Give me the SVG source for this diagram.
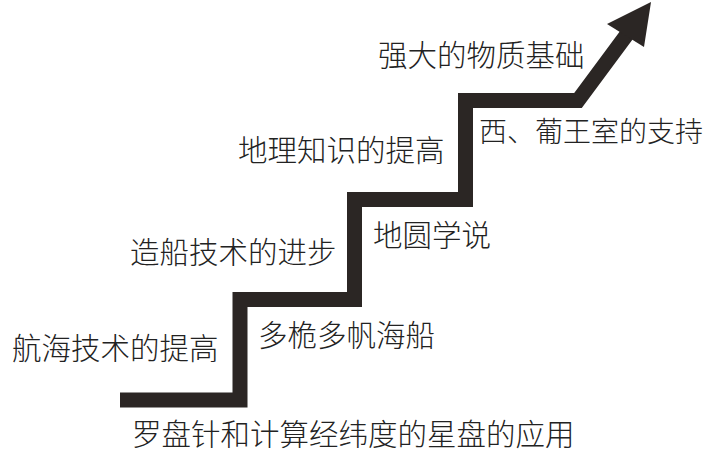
<svg xmlns="http://www.w3.org/2000/svg" width="712" height="452" viewBox="0 0 712 452">
<style>
.t{font-family:"Noto Sans CJK SC","Noto Sans",sans-serif;font-size:29.5px;font-weight:300;fill:#222;}
.stair{fill:none;stroke:#2b2624;stroke-width:15;stroke-linejoin:miter;stroke-linecap:butt;}
</style>
<rect width="712" height="452" fill="#fff"/>
<g id="connectors">
<path class="stair" d="M120,400 H240 V299.5 H354.5 V199.5 H465.5 V100.5 H578 L628,33"/>
<polygon points="651,2 607,24 644,47" fill="#2b2624"/>
</g>
<g id="n1"><text class="t" x="132" y="445">罗盘针和计算经纬度的星盘的应用</text></g>
<g id="n2"><text class="t" x="12" y="359">航海技术的提高</text></g>
<g id="n3"><text class="t" x="258" y="346">多桅多帆海船</text></g>
<g id="n4"><text class="t" x="130" y="263">造船技术的进步</text></g>
<g id="n5"><text class="t" x="373" y="246">地圆学说</text></g>
<g id="n6"><text class="t" x="238" y="161">地理知识的提高</text></g>
<g id="n7"><text class="t" x="479" y="142" style="font-size:28px">西、葡王室的支持</text></g>
<g id="n8"><text class="t" x="378" y="66">强大的物质基础</text></g>
</svg>
